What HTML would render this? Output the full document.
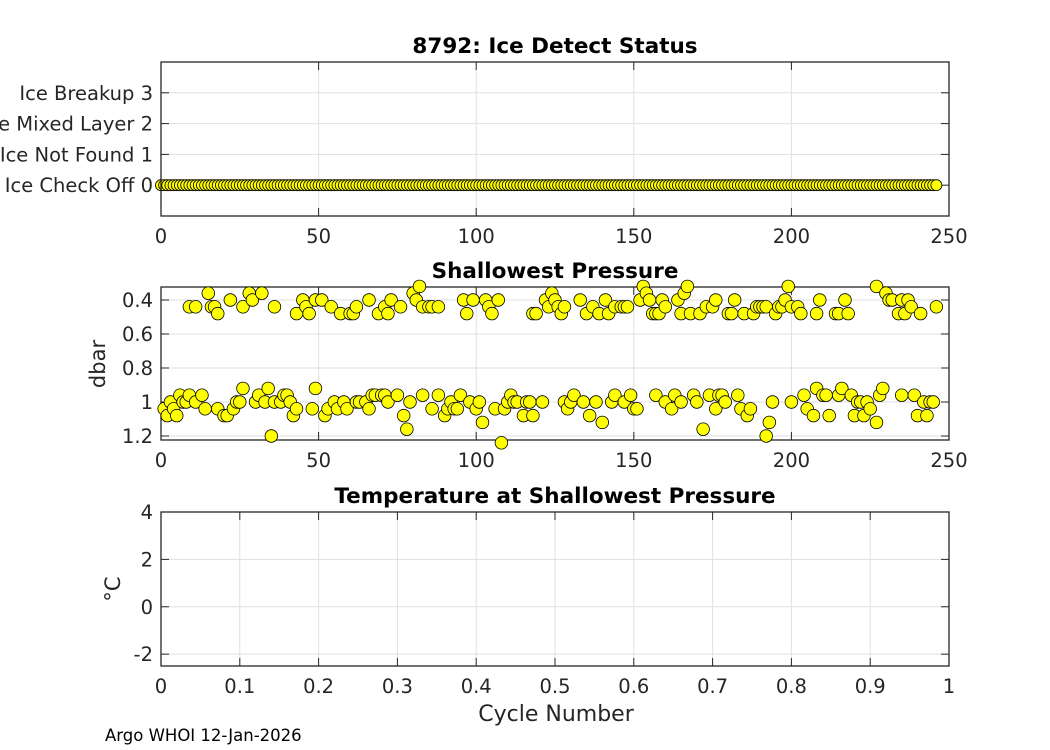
<!DOCTYPE html>
<html><head><meta charset="utf-8"><style>
html,body{margin:0;padding:0;background:#fff;}
svg{display:block;font-family:"DejaVu Sans","Liberation Sans",sans-serif;}
</style></head><body>
<svg id="fig" width="1050" height="750" viewBox="0 0 1050 750" xmlns="http://www.w3.org/2000/svg"></svg>
<script>
// ---- data ----
const iceCycles = Array.from({length: 247}, (_, i) => i);
const iceStatus = iceCycles.map(() => 0);
const iceTickVals = [0, 1, 2, 3];
const iceTickLabels = ["Ice Check Off 0", "Ice Not Found 1", "Ice Mixed Layer 2", "Ice Breakup 3"];
const cycleTicks = [0, 50, 100, 150, 200, 250];

const topCycles = [9,11,15,16,17,18,22,26,28,29,32,36,43,45,46,47,49,51,54,57,60,61,62,66,69,71,72,73,76,80,81,82,83,85,86,88,96,97,99,103,104,105,107,118,119,122,124,123,125,126,127,128,133,135,137,139,141,142,144,146,147,148,152,153,154,155,156,157,158,159,160,164,165,166,167,168,171,173,175,176,180,181,182,185,188,189,190,191,192,195,196,197,198,199,200,202,203,208,209,214,215,217,218,227,230,231,232,234,235,236,237,238,241,246];
const topPres = [0.44,0.44,0.36,0.44,0.44,0.48,0.40,0.44,0.36,0.40,0.36,0.44,0.48,0.40,0.44,0.48,0.40,0.40,0.44,0.48,0.48,0.48,0.44,0.40,0.48,0.44,0.48,0.40,0.44,0.36,0.40,0.32,0.44,0.44,0.44,0.44,0.40,0.48,0.40,0.40,0.44,0.48,0.40,0.48,0.48,0.40,0.36,0.44,0.40,0.44,0.48,0.44,0.40,0.48,0.44,0.48,0.40,0.48,0.44,0.44,0.44,0.44,0.40,0.32,0.36,0.40,0.48,0.48,0.48,0.40,0.44,0.40,0.48,0.36,0.32,0.48,0.48,0.44,0.44,0.40,0.48,0.48,0.40,0.48,0.48,0.44,0.44,0.44,0.44,0.48,0.44,0.44,0.40,0.32,0.44,0.44,0.48,0.48,0.40,0.48,0.48,0.40,0.48,0.32,0.36,0.40,0.40,0.48,0.40,0.48,0.40,0.44,0.48,0.44];
const botCycles = [1,2,3,4,5,6,7,8,9,11,13,14,18,20,21,23,24,25,26,30,31,33,34,35,36,38,39,40,41,42,43,48,49,52,53,55,56,58,59,62,63,65,66,67,68,70,71,72,75,77,78,79,83,86,88,90,91,92,93,94,95,98,100,101,102,106,108,109,110,111,112,113,115,116,117,118,121,128,129,130,131,134,136,138,140,143,144,147,149,150,151,157,160,162,163,165,169,170,172,174,176,177,178,179,183,184,186,187,192,193,194,200,204,205,207,208,210,211,212,215,216,219,220,221,222,223,224,225,227,228,229,235,239,240,242,243,244,245];
const botPres = [1.04,1.08,1.00,1.04,1.08,0.96,1.00,1.00,0.96,1.00,0.96,1.04,1.04,1.08,1.08,1.04,1.00,1.00,0.92,1.00,0.96,1.00,0.92,1.20,1.00,1.00,0.96,0.96,1.00,1.08,1.04,1.04,0.92,1.08,1.04,1.00,1.04,1.00,1.04,1.00,1.00,1.00,1.04,0.96,0.96,0.96,0.96,1.00,0.96,1.08,1.16,1.00,0.96,1.04,0.96,1.08,1.04,1.00,1.04,1.04,0.96,1.00,1.04,1.00,1.12,1.04,1.24,1.04,1.00,0.96,1.00,1.00,1.08,1.00,1.00,1.08,1.00,1.00,1.04,1.00,0.96,1.00,1.08,1.00,1.12,1.00,0.96,1.00,0.96,1.04,1.04,0.96,1.00,1.04,0.96,1.00,0.96,1.00,1.16,0.96,1.04,0.96,0.96,1.00,0.96,1.04,1.08,1.04,1.20,1.12,1.00,1.00,0.96,1.04,1.08,0.92,0.96,0.96,1.08,0.96,0.92,0.96,1.08,1.00,1.00,1.08,1.00,1.04,1.12,0.96,0.92,0.96,0.96,1.08,1.00,1.08,1.00,1.00];
const presTicks = [0.4, 0.6, 0.8, 1.0, 1.2];
const presTickLabels = ["0.4", "0.6", "0.8", "1", "1.2"];
const tempTicks = [-2, 0, 2, 4];
const tempXTicks = [0, 0.1, 0.2, 0.3, 0.4, 0.5, 0.6, 0.7, 0.8, 0.9, 1];
const tempXLabels = ["0","0.1","0.2","0.3","0.4","0.5","0.6","0.7","0.8","0.9","1"];

// ---- drawing ----
const NS = "http://www.w3.org/2000/svg";
const svg = document.getElementById("fig");
function mk(tag, attrs, parent) {
  const e = document.createElementNS(NS, tag);
  for (const k in attrs) e.setAttribute(k, attrs[k]);
  (parent || svg).appendChild(e);
  return e;
}
const L = 161, R = 949;
const TF = 19.5;
function scale(d0, d1, r0, r1) { return v => r0 + (v - d0) / (d1 - d0) * (r1 - r0); }

function axes(name, top, bot, xs, ys, xt, xl, yt, yl, title) {
  const g = mk("g", {});
  
  
  mk("rect", {x: L, y: top, width: R - L, height: bot - top, fill: "#fff"}, g);
  xt.forEach((v, i) => {
    const x = xs(v);
    mk("line", {x1: x, x2: x, y1: top, y2: bot, stroke: "#dfdfdf", "stroke-width": 1}, g);
  });
  yt.forEach(v => {
    const y = ys(v);
    mk("line", {x1: L, x2: R, y1: y, y2: y, stroke: "#dfdfdf", "stroke-width": 1}, g);
  });
  xt.forEach((v, i) => {
    const x = xs(v);
    mk("line", {x1: x, x2: x, y1: bot, y2: bot - 8, stroke: "#262626"}, g);
    mk("line", {x1: x, x2: x, y1: top, y2: top + 8, stroke: "#262626"}, g);
    const t = mk("text", {x: x, y: bot + 27, "text-anchor": "middle", "font-size": TF, fill: "#262626"}, g);
    t.textContent = xl[i];
    
    
  });
  yt.forEach((v, i) => {
    const y = ys(v);
    mk("line", {x1: L, x2: L + 8, y1: y, y2: y, stroke: "#262626"}, g);
    mk("line", {x1: R, x2: R - 8, y1: y, y2: y, stroke: "#262626"}, g);
    const t = mk("text", {x: 153, y: y + 7, "text-anchor": "end", "font-size": TF, fill: "#262626"}, g);
    t.textContent = yl[i];
    
    
  });
  const tt = mk("text", {x: (L + R) / 2, y: top - 9, "text-anchor": "middle", "font-size": 21.5, "font-weight": "bold", fill: "#000"}, g);
  tt.textContent = title;
  
  
  return g;
}
function frame(g, top, bot) {
  mk("rect", {x: L, y: top, width: R - L, height: bot - top, fill: "none", stroke: "#262626", "stroke-width": 1.3}, g);
}

// Panel 1
{
  const top = 62, bot = 216;
  const xs = scale(0, 250, L, R), ys = scale(-1, 4, bot, top);
  const g = axes("ice-status-axes", top, bot, xs, ys, cycleTicks, cycleTicks.map(String), iceTickVals, iceTickLabels, "8792: Ice Detect Status");
  iceCycles.forEach((c, i) => {
    const p = mk("circle", {cx: xs(c), cy: ys(iceStatus[i]), r: 5.5, fill: "#ffff00", stroke: "#000", "stroke-width": 0.8}, g);
    
    
  });
  frame(g, top, bot);
}
// Panel 2
{
  const top = 287, bot = 440;
  const xs = scale(0, 250, L, R), ys = scale(0.3235, 1.2235, top, bot);
  const g = axes("shallowest-pressure-axes", top, bot, xs, ys, cycleTicks, cycleTicks.map(String), presTicks, presTickLabels, "Shallowest Pressure");
  const yl = mk("text", {x: 0, y: 0, transform: "translate(105,364) rotate(-90)", "text-anchor": "middle", "font-size": 21, fill: "#262626"}, g);
  yl.textContent = "dbar";
  
  
  const drawPts = (cs, vs) => cs.forEach((c, i) => {
    const p = mk("circle", {cx: xs(c), cy: ys(vs[i]), r: 6.3, fill: "#ffff00", stroke: "#000", "stroke-width": 0.8}, svg);
    
    
  });
  frame(g, top, bot);
  drawPts(topCycles, topPres);
  drawPts(botCycles, botPres);
}
// Panel 3
{
  const top = 512, bot = 666;
  const xs = scale(0, 1, L, R), ys = scale(-2.5, 4, bot, top);
  const g = axes("temperature-axes", top, bot, xs, ys, tempXTicks, tempXLabels, tempTicks, tempTicks.map(String), "Temperature at Shallowest Pressure");
  const yl = mk("text", {x: 0, y: 0, transform: "translate(120,589) rotate(-90)", "text-anchor": "middle", "font-size": 21, fill: "#262626"}, g);
  yl.textContent = "°C";
  
  
  const xl = mk("text", {x: (L + R) / 2 + 1, y: 721, "text-anchor": "middle", "font-size": 22, fill: "#262626"}, g);
  xl.textContent = "Cycle Number";
  
  
  frame(g, top, bot);
}
const foot = mk("text", {x: 105, y: 741, "font-size": 16.5, fill: "#000"});
foot.textContent = "Argo WHOI 12-Jan-2026";


</script>
</body></html>
